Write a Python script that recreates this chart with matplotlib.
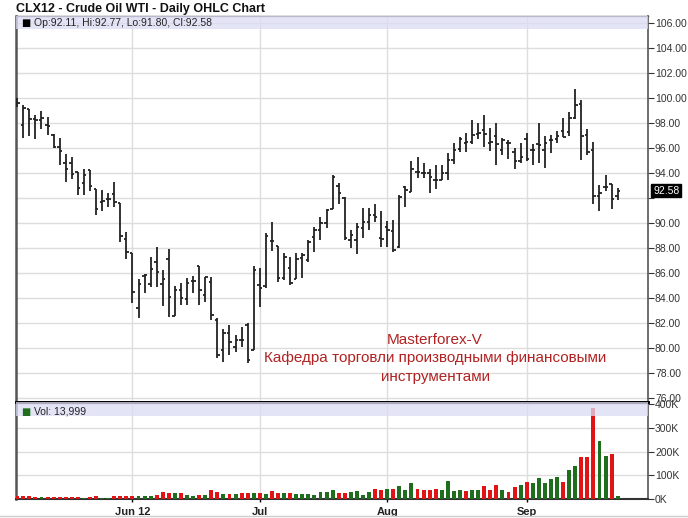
import matplotlib
matplotlib.use("Agg")
import matplotlib.pyplot as plt
import matplotlib.transforms as mtransforms
import numpy as np

plt.rcParams['font.family'] = ['Liberation Sans', 'DejaVu Sans']

# daily OHLC for CLX12, one entry per trading day (May 4 .. Sep 25, 2012)
opens = [99.9, 97.8, 99.1, 98.3, 98.2, 97.8, 97.0, 96.1, 94.8, 94.8,
         94.05, 93.2, 94.2, 92.7, 91.65, 91.9, 92.3, 91.6, 88.7, 87.6,
         83.2, 85.7, 85.1, 86.85, 85.1, 87.1, 82.5, 84.62, 83.87, 85.37,
         86.54, 84.22, 85.29, 82.22, 79.82, 81.15, 80.09, 80.6, 81.8, 79.82,
         85.02, 84.9, 88.5, 88.14, 85.55, 86.35, 85.5, 87.15, 87.02, 88.83,
         89.42, 89.95, 91.1, 92.94, 91.95, 88.62, 88.62, 89.55, 90.09, 90.62,
         88.75, 89.69, 89.37, 88.09, 92.83, 92.49, 94.09, 94.0, 93.95, 93.42,
         93.42, 93.95, 95.02, 95.87, 96.4, 96.49, 97.12, 97.46, 96.4, 96.93,
         95.79, 96.4, 95.68, 94.93, 96.74, 95.86, 96.32, 95.86, 96.66, 96.74,
         97.38, 97.28, 98.34, 99.52, 97.01, 95.86, 92.13, 92.85, 93.12, 92.11]
highs = [100.0, 99.4, 99.1, 98.6, 98.9, 98.5, 97.1, 96.8, 95.5, 95.3,
         94.1, 94.3, 94.2, 92.7, 92.6, 92.4, 93.25, 91.6, 89.3, 87.6,
         85.5, 85.9, 87.25, 88.05, 86.2, 87.9, 84.95, 85.15, 85.55, 85.74,
         86.54, 85.69, 85.69, 82.35, 81.47, 81.82, 81.02, 81.69, 82.0, 86.54,
         86.35, 89.2, 90.03, 88.14, 87.6, 87.23, 87.6, 87.55, 88.62, 89.69,
         90.49, 91.07, 93.82, 93.15, 92.09, 89.42, 89.95, 91.15, 91.15, 91.5,
         90.97, 90.17, 90.22, 92.22, 92.94, 94.97, 95.29, 94.81, 94.27, 94.62,
         94.62, 95.55, 96.35, 96.89, 97.15, 98.2, 98.0, 98.66, 97.6, 98.0,
         96.8, 96.66, 96.0, 96.4, 97.2, 96.26, 98.0, 96.93, 97.01, 97.38,
         98.4, 98.88, 100.74, 99.78, 97.52, 96.45, 93.01, 93.78, 93.12, 92.77]
lows = [99.3, 96.8, 96.9, 96.7, 97.5, 97.0, 96.0, 94.6, 93.3, 93.5,
        92.2, 92.2, 92.5, 90.6, 90.9, 91.25, 91.25, 88.45, 87.1, 83.6,
        82.4, 84.4, 84.85, 84.85, 83.3, 82.45, 82.5, 83.42, 83.42, 84.35,
        83.42, 83.69, 82.22, 79.15, 78.89, 79.42, 79.69, 80.09, 78.75, 79.82,
        83.29, 84.75, 87.7, 85.29, 85.42, 85.02, 85.47, 85.55, 86.89, 87.69,
        88.62, 89.55, 91.1, 91.5, 88.62, 87.95, 87.5, 88.75, 89.42, 90.09,
        88.09, 88.09, 87.69, 87.95, 91.29, 92.49, 93.55, 93.55, 92.35, 92.67,
        93.42, 93.42, 94.7, 95.69, 95.69, 96.3, 96.67, 96.05, 95.73, 94.66,
        95.41, 95.06, 94.26, 94.8, 94.93, 94.61, 94.8, 94.34, 95.6, 96.4,
        96.85, 96.93, 98.26, 94.98, 95.41, 91.52, 90.93, 92.58, 91.06, 91.80]
closes = [99.6, 99.2, 98.3, 98.2, 98.4, 97.7, 96.05, 95.7, 94.3, 93.9,
          92.8, 93.8, 92.9, 91.1, 91.7, 91.9, 91.65, 88.9, 87.65, 84.45,
          85.1, 85.8, 86.3, 86.05, 85.5, 84.05, 84.6, 83.95, 85.2, 85.3,
          84.62, 85.63, 82.62, 79.42, 81.15, 80.49, 80.62, 80.6, 79.0, 86.22,
          84.8, 88.9, 88.5, 85.55, 87.29, 85.2, 87.07, 87.42, 88.49, 89.42,
          89.95, 91.02, 93.63, 92.35, 88.75, 89.02, 89.69, 90.09, 90.62, 90.43,
          88.67, 89.42, 87.82, 92.03, 92.62, 94.27, 94.09, 94.0, 93.63, 93.42,
          94.0, 95.02, 95.82, 96.67, 96.49, 97.0, 97.2, 97.1, 96.48, 96.3,
          96.6, 96.4, 94.93, 95.3, 95.1, 95.86, 96.2, 96.4, 96.66, 96.9,
          96.88, 98.34, 99.41, 96.93, 95.68, 92.13, 92.4, 92.85, 91.86, 92.58]
# volume in thousands of contracts
volumes = [12, 11, 11, 10, 10, 10, 10, 10, 10, 10,
           9, 5, 10, 11, 5, 5, 12, 11, 11, 13,
           12, 11, 14, 18, 29, 25, 24, 25, 15, 11,
           17, 15, 36, 29, 21, 19, 21, 24, 25, 25,
           24, 21, 35, 25, 24, 24, 22, 19, 21, 18,
           28, 28, 36, 24, 24, 28, 32, 17, 28, 44,
           40, 44, 44, 53, 36, 68, 44, 40, 40, 44,
           40, 76, 32, 36, 32, 40, 40, 53, 40, 60,
           36, 28, 49, 61, 72, 68, 89, 69, 85, 93,
           72, 121, 140, 175, 178, 382, 244, 182, 189, 13.999]
volumes = [v * 1000 for v in volumes]

month_ticks = [19, 40, 61, 84]
month_labels = ["Jun 12", "Jul", "Aug", "Sep"]
price_ticks = np.arange(76, 107, 2)

x = np.arange(len(closes))
o = np.array(opens)
h = np.array(highs)
l = np.array(lows)
c = np.array(closes)
prev = np.concatenate([[o[0]], c[:-1]])
vol_colors = np.where(c >= prev, '#1e6e1e', '#e01414')

fig = plt.figure(figsize=(6.88, 5.18), dpi=100)
W, H = 688.0, 518.0
ax = fig.add_axes([16 / W, 1 - 402 / H, 632 / W, 386 / H])
axv = fig.add_axes([16 / W, 1 - 499 / H, 632 / W, 97 / H], sharex=ax)

# price bars
ax.vlines(x, l, h, color='#222222', lw=1.3, zorder=3)
ax.hlines(o, x - 0.4, x, color='#222222', lw=1.3, zorder=3)
ax.hlines(c, x, x + 0.4, color='#222222', lw=1.3, zorder=3)

ax.set_xlim(-0.2, 104)
ax.set_ylim(75.66, 106.54)
ax.yaxis.tick_right()
ax.set_yticks(price_ticks)
ax.set_yticklabels(['' if t == 92 else '%.2f' % t for t in price_ticks])
ax.tick_params(axis='y', labelsize=7.5, colors='#333333', length=4, width=0.8, pad=1)
ax.tick_params(axis='x', bottom=False, labelbottom=False)
ax.set_xticks(month_ticks)
ax.grid(True, color='#dddddd', lw=1)
ax.set_axisbelow(True)
ax.axhspan(105.5, 106.54, color='#dcdcf5', alpha=0.75, lw=0, zorder=4)
ax.text(0.008, 0.983, '\u25A0', transform=ax.transAxes, fontsize=7, va='center', color='black',
        family=['DejaVu Sans'], zorder=5)
ax.text(0.028, 0.983, 'Op:%.2f, Hi:%.2f, Lo:%.2f, Cl:%.2f' % (o[-1], h[-1], l[-1], c[-1]),
        transform=ax.transAxes, fontsize=7.5, va='center', color='#222222', zorder=5)

# last price box
trans = mtransforms.blended_transform_factory(ax.transAxes, ax.transData)
ax.text(1.008, c[-1], '%.2f' % c[-1], transform=trans, fontsize=7.5, color='white', va='center',
        ha='left', bbox=dict(boxstyle='square,pad=0.15', fc='black', ec='black'), clip_on=False)

# watermark
red = '#b22222'
ax.text(0.663, 0.161, 'Masterforex-V', transform=ax.transAxes, ha='center', va='center', fontsize=11, color=red)
ax.text(0.663, 0.114, 'Кафедра торговли производными финансовыми', transform=ax.transAxes,
        ha='center', va='center', fontsize=11, color=red)
ax.text(0.663, 0.065, 'инструментами', transform=ax.transAxes, ha='center', va='center', fontsize=11, color=red)

for s in ['left', 'right', 'top']:
    ax.spines[s].set_color('#555555')
ax.spines['left'].set_linewidth(1.8)
ax.spines['right'].set_linewidth(1.2)
ax.spines['top'].set_linewidth(1.0)
ax.spines['bottom'].set_color('black')
ax.spines['bottom'].set_linewidth(2)

# volume
axv.bar(x, volumes, width=0.65, color=vol_colors, zorder=3)
axv.set_ylim(0, 409000)
axv.yaxis.tick_right()
axv.set_yticks([0, 100000, 200000, 300000, 400000])
axv.set_yticklabels(['0K', '100K', '200K', '300K', '400K'])
axv.tick_params(axis='y', labelsize=7.5, colors='#333333', length=4, width=0.8, pad=1)
axv.set_xticks(month_ticks)
axv.set_xticklabels(month_labels, fontsize=8, fontweight='bold', color='#222222')
axv.tick_params(axis='x', direction='inout', length=5, width=1, pad=3)
axv.grid(True, color='#dddddd', lw=1)
axv.set_axisbelow(True)
axv.axhspan(350000, 409000, color='#dcdcf5', alpha=0.75, lw=0, zorder=4)
axv.text(0.008, 0.90, '\u25A0', transform=axv.transAxes, fontsize=7, va='center', color='#1e6e1e',
         family=['DejaVu Sans'], zorder=5)
axv.text(0.028, 0.90, 'Vol: {:,.0f}'.format(volumes[-1]), transform=axv.transAxes,
         fontsize=7.5, va='center', color='#222222', zorder=5)
for s in ['left', 'right']:
    axv.spines[s].set_color('#555555')
axv.spines['left'].set_linewidth(1.8)
axv.spines['right'].set_linewidth(1.2)
axv.spines['top'].set_color('black')
axv.spines['top'].set_linewidth(2)
axv.spines['bottom'].set_color('#333333')
axv.spines['bottom'].set_linewidth(1.5)

fig.text(16 / W, 1 - 9 / H, 'CLX12 - Crude Oil WTI - Daily OHLC Chart', fontsize=9,
         fontweight='bold', va='center', ha='left', color='#111111')
fig.add_artist(plt.Line2D([0, 1], [1 - 516 / H, 1 - 516 / H], color='#cccccc', lw=1))

fig.savefig('out.png', dpi=100)
